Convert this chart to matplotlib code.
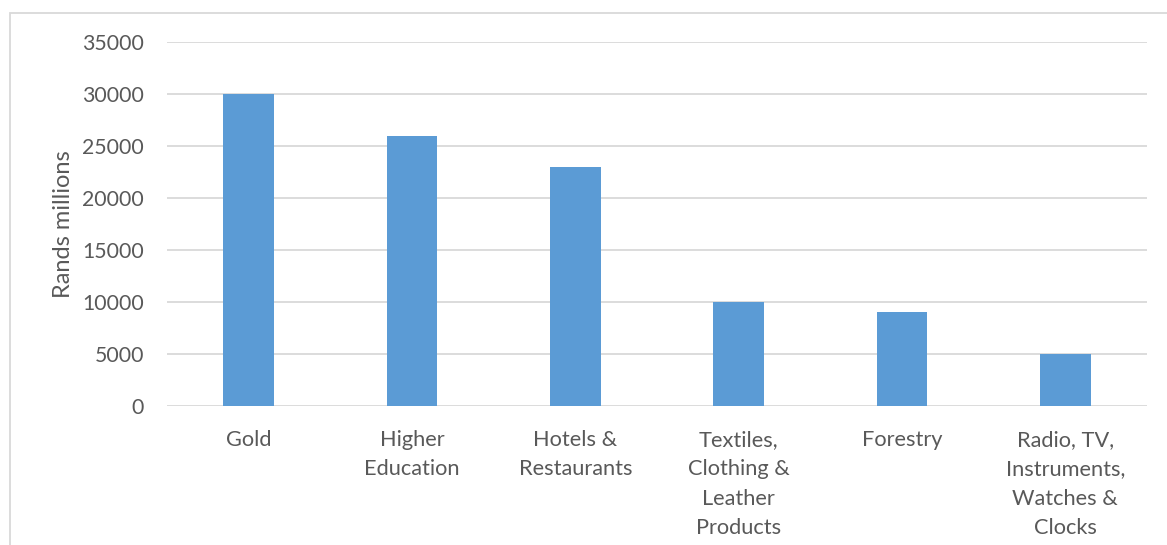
import matplotlib
matplotlib.use("Agg")
import matplotlib.pyplot as plt
from matplotlib.patches import Rectangle

categories = ["Gold", "Higher\nEducation", "Hotels &\nRestaurants",
              "Textiles,\nClothing &\nLeather\nProducts", "Forestry",
              "Radio, TV,\nInstruments,\nWatches &\nClocks"]
values = [30000, 26000, 23000, 10000, 9000, 5000]
yticks = [0, 5000, 10000, 15000, 20000, 25000, 30000, 35000]

W, H = 1167, 545
fig = plt.figure(figsize=(W / 100, H / 100), dpi=100)
plt.rcParams['font.family'] = ['Lato', 'DejaVu Sans']
txt = "#595959"
grid = "#d9d9d9"

# outer chart frame (extends beyond right/bottom)
fig.patches.append(Rectangle((10 / W, -0.1), 1.2, 1 - 13 / H + 0.1,
                             transform=fig.transFigure, fill=False,
                             edgecolor=grid, linewidth=1.3))

left, right = 167 / W, 1147 / W
bottom, top = 1 - 406 / H, 1 - 42 / H
ax = fig.add_axes([left, bottom, right - left, top - bottom])
x = list(range(len(categories)))
ax.bar(x, values, width=0.31, color="#5B9BD5", zorder=3)
ax.set_xlim(-0.5, len(categories) - 0.5)
ax.set_ylim(0, 35000)
ax.set_yticks(yticks)
ax.set_yticklabels([str(v) for v in yticks], fontsize=15.3, color=txt)
ax.set_xticks(x)
ax.set_xticklabels(categories, fontsize=15.7, color=txt, linespacing=1.6, va="top")
ax.tick_params(axis="y", length=0, pad=16.5)
ax.tick_params(axis="x", length=0, pad=17)
for s in ax.spines.values():
    s.set_visible(False)
ax.grid(axis="y", color=grid, linewidth=1.3, zorder=0)
ax.set_axisbelow(True)
ax.set_ylabel("Rands millions", fontsize=17, color=txt, labelpad=6)

fig.savefig("out.png", dpi=100)
